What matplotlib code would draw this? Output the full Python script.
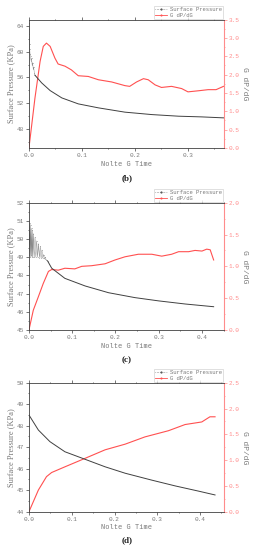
import matplotlib
matplotlib.use("Agg")
import matplotlib.pyplot as plt
from matplotlib.ticker import MultipleLocator
from matplotlib.lines import Line2D

# ---- panel (b) ----
b_noise_t = [0.000, 0.0003, 0.0006, 0.001, 0.0013, 0.0016, 0.002, 0.003, 0.004, 0.005,
             0.006, 0.007, 0.008, 0.009, 0.010, 0.0113]
b_noise_p = [64.4, 63.6, 62.8, 62.0, 61.2, 60.4, 59.7, 59.3, 58.6, 59.0,
             57.9, 58.3, 57.3, 57.6, 56.7, 56.34]
b_t = [0.0113, 0.024, 0.040, 0.062, 0.093, 0.131, 0.181, 0.232, 0.282, 0.326, 0.367]
b_p = [56.34, 55.14, 53.94, 52.80, 51.87, 51.25, 50.58, 50.20, 49.95, 49.84, 49.69]
b_gt = [0.0, 0.0113, 0.021, 0.027, 0.033, 0.040, 0.049, 0.055, 0.068, 0.080, 0.093,
        0.112, 0.131, 0.156, 0.181, 0.190, 0.203, 0.216, 0.225, 0.238, 0.250, 0.269,
        0.288, 0.300, 0.320, 0.338, 0.353, 0.367]
b_g = [0.0, 1.36, 2.36, 2.77, 2.86, 2.77, 2.45, 2.29, 2.23, 2.13, 1.97,
       1.95, 1.86, 1.80, 1.70, 1.68, 1.80, 1.89, 1.86, 1.72, 1.65, 1.68,
       1.62, 1.53, 1.56, 1.59, 1.59, 1.68]

# ---- panel (c) ----
c_noise_t = [0.000, 0.001, 0.002, 0.003, 0.004, 0.005, 0.006, 0.007, 0.008, 0.009,
             0.010, 0.012, 0.014, 0.016, 0.018, 0.020, 0.022, 0.024, 0.026, 0.028,
             0.030, 0.032, 0.034, 0.036, 0.038, 0.040, 0.043]
c_noise_p = [51.0, 49.1, 50.9, 49.0, 50.8, 49.1, 50.6, 49.0, 50.5, 49.0,
             50.3, 49.0, 50.1, 49.0, 49.9, 49.0, 49.75, 48.98, 49.6, 48.95,
             49.4, 48.95, 49.15, 48.9, 49.0, 48.85, 48.8]
c_t = [0.043, 0.0525, 0.083, 0.130, 0.184, 0.245, 0.300, 0.361, 0.427]
c_p = [48.80, 48.40, 47.84, 47.42, 47.05, 46.78, 46.60, 46.43, 46.28]
c_gt = [0.0, 0.010, 0.0216, 0.033, 0.045, 0.0525, 0.068, 0.083, 0.106, 0.122, 0.145,
        0.176, 0.199, 0.222, 0.253, 0.284, 0.307, 0.330, 0.346, 0.369, 0.384, 0.400,
        0.411, 0.419, 0.427]
c_g = [0.0, 0.31, 0.52, 0.73, 0.92, 0.95, 0.94, 0.97, 0.96, 1.00, 1.01,
       1.04, 1.10, 1.15, 1.19, 1.19, 1.16, 1.19, 1.23, 1.23, 1.25, 1.24,
       1.27, 1.26, 1.10]

# ---- panel (d) ----
d_t = [0.0, 0.022, 0.049, 0.084, 0.127, 0.178, 0.225, 0.287, 0.342, 0.396, 0.435]
d_p = [48.50, 47.80, 47.26, 46.79, 46.47, 46.09, 45.79, 45.47, 45.20, 44.96, 44.78]
d_gt = [0.0, 0.022, 0.041, 0.053, 0.084, 0.127, 0.178, 0.225, 0.271, 0.326, 0.365,
        0.404, 0.423, 0.435]
d_g = [0.0, 0.42, 0.68, 0.76, 0.87, 1.02, 1.20, 1.31, 1.45, 1.57, 1.69,
       1.74, 1.84, 1.84]

panels = [
    dict(tag="(b)", noise=(b_noise_t, b_noise_p), p=(b_t, b_p), g=(b_gt, b_g),
         xlim=0.368, ylim=(45, 65), yticks=[48, 52, 56, 60, 64], ymaj=4, ymin=2,
         glim=3.5, rect=[0.114, 0.731, 0.768, 0.2333], tagy=178),
    dict(tag="(c)", noise=(c_noise_t, c_noise_p), p=(c_t, c_p), g=(c_gt, c_g),
         xlim=0.451, ylim=(45, 52), yticks=None, ymaj=1, ymin=0.5,
         glim=2.0, rect=[0.114, 0.400, 0.768, 0.2315], tagy=360),
    dict(tag="(d)", noise=None, p=(d_t, d_p), g=(d_gt, d_g),
         xlim=0.456, ylim=(44, 50), yticks=None, ymaj=1, ymin=0.5,
         glim=2.5, rect=[0.114, 0.0696, 0.768, 0.2345], tagy=540),
]

GRAY = "#7a7a7a"
PINK = "#ff8c8c"
RED = "#ff5050"
DARK = "#404040"
MONO = "Liberation Mono"
SERIF = "Liberation Serif"

fig = plt.figure(figsize=(2.54, 5.5), dpi=100)

for pn in panels:
    ax = fig.add_axes(pn["rect"])
    ax2 = ax.twinx()
    ax.set_zorder(ax2.get_zorder() + 1)
    ax.patch.set_visible(False)

    if pn["noise"] is not None:
        ax.plot(pn["noise"][0], pn["noise"][1], color="#707070", lw=0.25,
                marker=".", ms=0.8, mew=0)
    ax.plot(pn["p"][0], pn["p"][1], color=DARK, lw=0.7)
    ax2.plot(pn["g"][0], pn["g"][1], color=RED, lw=0.8)

    ax.set_xlim(0, pn["xlim"])
    ax.set_ylim(*pn["ylim"])
    ax2.set_ylim(0, pn["glim"])
    if pn["yticks"] is not None:
        ax.set_yticks(pn["yticks"])
    else:
        ax.yaxis.set_major_locator(MultipleLocator(pn["ymaj"]))
    ax.yaxis.set_minor_locator(MultipleLocator(pn["ymin"]))
    ax.xaxis.set_major_locator(MultipleLocator(0.1))
    ax.xaxis.set_minor_locator(MultipleLocator(0.05))
    ax2.yaxis.set_major_locator(MultipleLocator(0.5))
    ax2.yaxis.set_minor_locator(MultipleLocator(0.25))
    ax.xaxis.set_major_formatter(plt.FuncFormatter(lambda v, _: f"{v:.1f}"))
    ax2.yaxis.set_major_formatter(plt.FuncFormatter(lambda v, _: f"{v:.1f}"))

    for s in ["left", "top", "bottom"]:
        ax.spines[s].set_color(DARK)
        ax.spines[s].set_linewidth(0.6)
    ax.spines["right"].set_visible(False)
    for s in ["left", "top", "bottom"]:
        ax2.spines[s].set_visible(False)
    ax2.spines["right"].set_color(PINK)
    ax2.spines["right"].set_linewidth(0.8)

    ax.tick_params(axis="both", which="both", direction="out", colors=DARK,
                   labelcolor=GRAY, labelsize=4.4, width=0.5, pad=1.5)
    ax.tick_params(which="major", length=2)
    ax.tick_params(which="minor", length=1)
    ax.tick_params(axis="x", top=True, which="both")
    ax2.tick_params(axis="y", which="both", direction="out", colors=PINK,
                    labelcolor=PINK, labelsize=4.4, width=0.5, pad=1.5)
    ax2.tick_params(which="major", length=2)
    ax2.tick_params(which="minor", length=1)
    for lab in ax.get_xticklabels() + ax.get_yticklabels() + ax2.get_yticklabels():
        lab.set_fontfamily(MONO)

    ax.set_xlabel("Nolte G Time", fontsize=5, family=MONO, color=GRAY, labelpad=2)
    ax.set_ylabel("Surface Pressure (KPa)", fontsize=6, family=SERIF, color=GRAY,
                  labelpad=1.5)
    ax2.set_ylabel("G dP/dG", fontsize=5.8, family=MONO, color=GRAY, rotation=270,
                   labelpad=6)

    handles = [Line2D([], [], color=DARK, lw=0.4, marker=".", ms=1, ls=":"),
               Line2D([], [], color=RED, lw=0.6, marker=".", ms=1)]
    leg = ax.legend(handles, ["Surface Pressure", "G dP/dG"], loc="lower right",
                    bbox_to_anchor=(1.0, 1.0), prop={"family": MONO, "size": 4.0},
                    frameon=True, fancybox=False, borderpad=0.25, labelspacing=0.1,
                    handlelength=2.2, handletextpad=0.5, borderaxespad=0.1)
    leg.get_frame().set_edgecolor("#c8c8c8")
    leg.get_frame().set_linewidth(0.5)
    for t in leg.get_texts():
        t.set_color(GRAY)

    fig.text(0.5, 1 - pn["tagy"] / 550, pn["tag"], ha="center", va="center",
             fontsize=6.5, family=SERIF, fontweight="bold", color="#222222")

fig.savefig("out.png", dpi=100)
